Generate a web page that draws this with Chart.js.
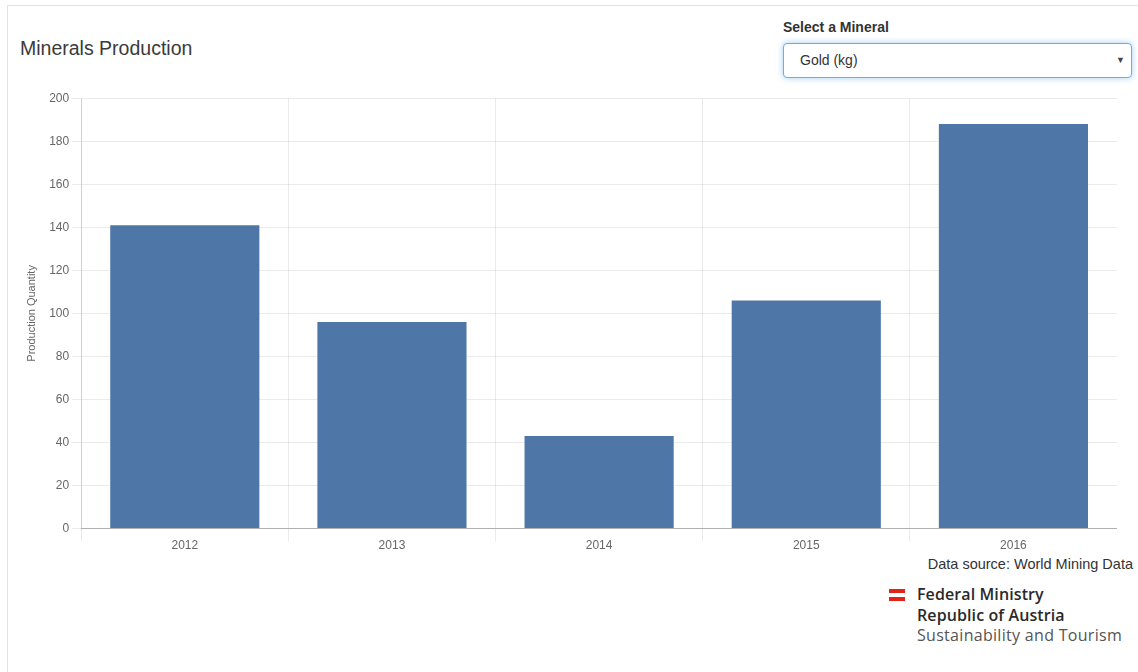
<!DOCTYPE html>
<html><head><meta charset="utf-8">
<script src="https://cdn.jsdelivr.net/npm/chart.js@4/dist/chart.umd.min.js"></script>
<style>
html,body{margin:0;padding:0;background:#fff;width:1138px;height:672px;overflow:hidden;font-family:"Liberation Sans",Arial,sans-serif;}
.card{position:absolute;left:7px;top:5px;width:1140px;height:680px;border-left:1px solid #e3e3e3;border-top:1px solid #e3e3e3;}
.title{position:absolute;left:20px;top:37px;font-size:19.5px;color:#3a3a3a;}
.sel-label{position:absolute;left:783px;top:19px;font-size:14px;font-weight:bold;color:#333;}
.sel{position:absolute;left:783px;top:43px;width:347px;height:33px;border:1px solid #66afe9;border-radius:4px;box-shadow:0 0 6px rgba(102,175,233,.6);background:#fff;}
.sel span{position:absolute;left:16px;top:8px;font-size:14px;color:#333;}
.sel i{position:absolute;right:6px;top:11px;font-size:9px;color:#444;font-style:normal;}
.wrap{position:absolute;left:25px;top:88px;width:1092px;height:462px;}
.src{position:absolute;right:5px;top:556px;font-size:14.5px;color:#333;}
.logo{position:absolute;left:889px;top:585px;}
.flag1,.flag2{position:absolute;left:0;width:16px;height:4px;background:#e2231a;}
.flag1{top:4px}.flag2{top:12px}
.lt{position:absolute;left:28px;top:-1px;font-family:"Open Sans",sans-serif;font-size:16px;line-height:20.5px;color:#2a2a2a;white-space:nowrap;}
.lt .b{font-weight:600;letter-spacing:0.1px}
.lt .l{color:#555;font-weight:400;letter-spacing:0.3px}
</style></head><body>
<div class="card"></div>
<div class="title">Minerals Production</div>
<div class="sel-label">Select a Mineral</div>
<div class="sel"><span>Gold (kg)</span><i>&#9660;</i></div>
<div class="wrap"><canvas id="c"></canvas></div>
<div class="src">Data source: World Mining Data</div>
<div class="logo"><div class="flag1"></div><div class="flag2"></div>
<div class="lt"><div class="b">Federal Ministry</div><div class="b">Republic of Austria</div><div class="l">Sustainability and Tourism</div></div></div>
<script>
const years = ["2012","2013","2014","2015","2016"];
const goldKg = [141, 96, 43, 106, 188];
const yTicks = [0,20,40,60,80,100,120,140,160,180,200];

new Chart(document.getElementById('c'), {
  type: 'bar',
  data: { labels: years, datasets: [{ label: 'Gold (kg)', data: goldKg, backgroundColor: '#4e77a8', borderWidth: 0, categoryPercentage: 0.72, barPercentage: 1.0 }] },
  options: {
    responsive: true, maintainAspectRatio: false, animation: false,
    plugins: { legend: { display: false }, tooltip: { enabled: false } },
    layout: { padding: { left: 0, right: 0, top: 0, bottom: 0 } },
    scales: {
      x: {
        grid: { color: 'rgba(0,0,0,0.08)', tickLength: 13, offset: true },
        border: { color: 'rgba(0,0,0,0.25)' },
        ticks: { color: '#666', font: { family: 'Liberation Sans', size: 12 }, padding: -3 }
      },
      y: {
        min: 0, max: 200,
        afterBuildTicks: ax => { ax.ticks = yTicks.map(v => ({ value: v })); },
        grid: { color: 'rgba(0,0,0,0.08)', tickLength: 9 },
        border: { color: 'rgba(0,0,0,0.12)' },
        ticks: { color: '#666', font: { family: 'Liberation Sans', size: 12 }, padding: 3 },
        title: { display: true, text: 'Production Quantity', color: '#666', font: { family: 'Liberation Sans', size: 11 }, padding: { top: 0, bottom: 8 } }
      }
    }
  }
});
</script>
</body></html>
